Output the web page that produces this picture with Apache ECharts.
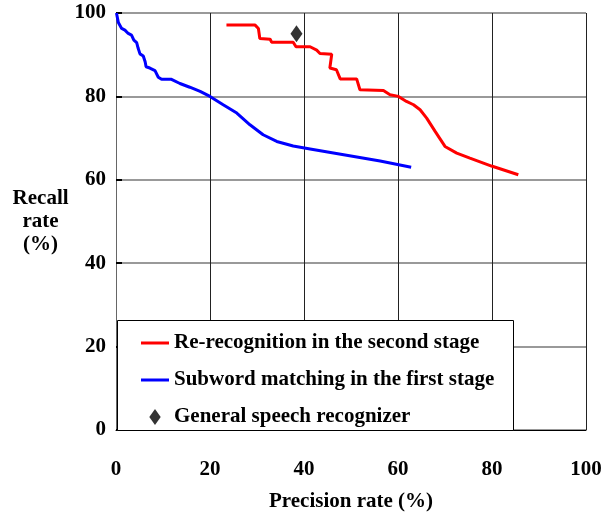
<!DOCTYPE html>
<html><head><meta charset="utf-8">
<script src="https://cdn.jsdelivr.net/npm/echarts@6/dist/echarts.min.js"></script>
<style>html,body{margin:0;padding:0;background:#fff}#c{width:614px;height:512px}</style>
</head><body><div id="c"></div>
<script>
const xTicks = [0, 20, 40, 60, 80, 100];
const yTicks = [0, 20, 40, 60, 80, 100];
const seriesNames = ['Re-recognition in the second stage', 'Subword matching in the first stage', 'General speech recognizer'];
const reRecognition = [
  [23.5,97.1],[29.6,97.1],[30.3,96.3],[30.6,93.9],[32.8,93.7],[33.1,93.0],[37.7,93.0],[38.3,91.9],
  [41.3,91.9],[42.7,91.1],[43.4,90.3],[45.9,90.1],[45.5,86.8],[46.9,86.4],[47.7,84.2],[51.2,84.2],
  [51.9,81.6],[56.9,81.4],[58.3,80.4],[60.1,80.0],[61.8,78.8],[63.3,78.0],[64.7,76.8],[66.1,74.8],
  [67.9,71.6],[70.0,68.0],[72.5,66.4],[75.3,65.2],[79.9,63.3],[85.6,61.2]
];
const subwordMatching = [
  [0.1,100],[0.5,97.7],[1.2,96.3],[1.9,95.9],[2.6,95.1],[3.3,94.7],[3.8,93.5],[4.4,92.9],[4.7,91.6],
  [5.1,90.2],[5.8,89.7],[6.2,88.3],[6.4,87.1],[7.2,86.8],[8.3,86.2],[9.0,84.6],[9.7,84.1],[11.8,84.1],
  [13.6,83.1],[15.7,82.2],[17.9,81.2],[20.0,80.0],[22.8,78.0],[25.7,76.0],[28.5,73.2],[31.3,70.8],
  [34.2,69.2],[37.7,68.1],[41.3,67.4],[56.2,64.5],[62.8,63.0]
];
const generalRecognizer = [[38.4,95.0]];

const font = '"Liberation Serif","Times New Roman",serif';
const diamond = 'path://M5,0 L10,7 L5,14 L0,7 Z';
const lineIcon = 'path://M0,0 L28,0 L28,3 L0,3 Z';
const chart = echarts.init(document.getElementById('c'), null, {renderer:'canvas'});
chart.setOption({
  animation:false,
  backgroundColor:'#fff',
  grid:{left:116, top:13, width:470, height:417, containLabel:false, outerBoundsMode:'none'},
  xAxis:{
    type:'value', min:xTicks[0], max:xTicks[xTicks.length-1], interval:20,
    name:'Precision rate (%)', nameLocation:'middle', nameGap:61,
    nameTextStyle:{fontFamily:font, fontWeight:'bold', fontSize:21, color:'#000'},
    axisLine:{show:true, onZero:false, lineStyle:{color:'#000', width:1}},
    axisTick:{show:false},
    axisLabel:{margin:29, fontFamily:font, fontWeight:'bold', fontSize:21, color:'#000'},
    splitLine:{show:true, lineStyle:{color:'#222', width:1}}
  },
  yAxis:{
    type:'value', min:yTicks[0], max:yTicks[yTicks.length-1], interval:20,
    name:'Recall\nrate\n(%)', nameLocation:'middle', nameGap:71, nameRotate:0,
    nameTextStyle:{fontFamily:font, fontWeight:'bold', fontSize:21, color:'#000', align:'center', verticalAlign:'middle', lineHeight:23, padding:[9,0,0,0]},
    axisLine:{show:true, lineStyle:{color:'#666', width:1}},
    axisTick:{show:true, inside:true, length:6, lineStyle:{color:'#000', width:2}},
    axisLabel:{margin:10, fontFamily:font, fontWeight:'bold', fontSize:21, color:'#000'},
    splitLine:{show:true, lineStyle:{color:'#777', width:1.5}}
  },
  graphic:[{type:'rect', left:117, top:320, shape:{width:396, height:110}, style:{fill:'#fff', stroke:'#000', lineWidth:1}, z:5}],
  legend:{
    orient:'vertical', left:136, top:327, itemGap:15, itemWidth:28, itemHeight:16, z:10,
    textStyle:{fontFamily:font, fontWeight:'bold', fontSize:21, color:'#000', lineHeight:22},
    data:[
      {name:seriesNames[0], icon:lineIcon, itemStyle:{color:'#ff0000'}},
      {name:seriesNames[1], icon:lineIcon, itemStyle:{color:'#0000ff'}},
      {name:seriesNames[2], icon:diamond, itemStyle:{color:'#000'}}
    ]
  },
  series:[
    {name:seriesNames[0], type:'line', data:reRecognition, symbol:'none', smooth:false,
     lineStyle:{color:'#ff0000', width:3}, itemStyle:{color:'#ff0000'}, z:3},
    {name:seriesNames[1], type:'line', data:subwordMatching, symbol:'none', smooth:false,
     lineStyle:{color:'#0000ff', width:3}, itemStyle:{color:'#0000ff'}, z:3},
    {name:seriesNames[2], type:'scatter', data:generalRecognizer, symbol:diamond,
     symbolSize:[12,17], itemStyle:{color:'#000'}, z:4}
  ]
});
</script></body></html>
